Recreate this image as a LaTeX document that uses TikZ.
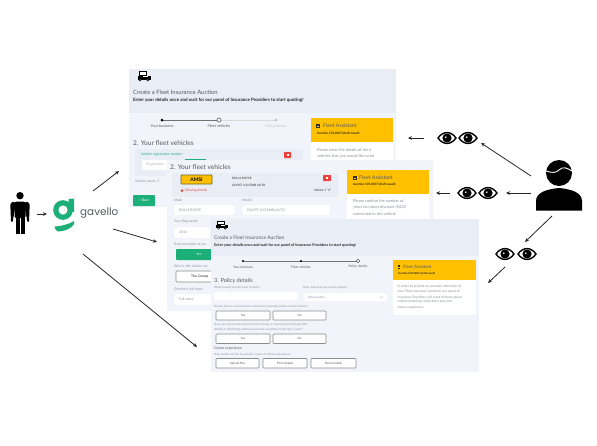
\documentclass[tikz,border=0pt]{standalone}
\usepackage{fontspec}
\setmainfont{Lato}
\newfontfamily\logofont{Poppins}
\usetikzlibrary{arrows.meta}
\definecolor{screenbg}{HTML}{F1F4FB}
\definecolor{headerbg}{HTML}{E9EDF5}
\definecolor{cardbg}{HTML}{E9EDF5}
\definecolor{fleetgreen}{HTML}{1CAF7A}
\definecolor{fleetyellow}{HTML}{FFC000}
\definecolor{fleetred}{HTML}{F0413C}
\definecolor{uigray}{HTML}{8A8F98}
\definecolor{uidark}{HTML}{55595F}
\tikzset{
  uitxt/.style={anchor=west, inner sep=0pt, text=uigray, font=\fontsize{3.4}{4}\selectfont},
  uiboldtxt/.style={anchor=west, inner sep=0pt, text=black!85, font=\fontsize{3.4}{4}\selectfont\bfseries},
  steptxt/.style={inner sep=0pt, text=uidark, font=\fontsize{3.8}{4}\selectfont},
  headtxt/.style={anchor=west, inner sep=0pt, text=uidark, font=\fontsize{6.6}{7}\selectfont},
  asttxt/.style={anchor=west, inner sep=0pt, text=uidark, font=\fontsize{5.2}{6}\selectfont},
  inputbox/.style={fill=white, draw=black!6, line width=0.3pt, rounded corners=0.8pt},
  optionbox/.style={fill=white, draw=black!45, line width=0.6pt, rounded corners=0.8pt},
  optiontxt/.style={inner sep=0pt, text=uidark, font=\fontsize{3.4}{4}\selectfont},
  flowarrow/.style={-{Stealth[length=4pt, width=3.6pt]}, line width=0.8pt, color=black!85},
  pics/eyeicon/.style={
    code={
      \draw[black, fill=white, line width=1.4pt] (-9,0) .. controls (-4,-7.2) and (4,-7.2) .. (9,0)
        .. controls (4,7.2) and (-4,7.2) .. (-9,0) -- cycle;
      \fill[black] (0,0) circle (4.6);
      \fill[white] (-1.2,-0.8) circle (0.9);
    }
  },
  pics/truckicon/.style={
    code={
      \fill[black] (-5.5,-5) rectangle (3,1);
      \fill[white] (-4.2,-3.8) rectangle (-1.5,-1.4);
      \fill[white] (-0.6,-3.8) rectangle (1.8,-1.4);
      \fill[black] (-6.5,0) rectangle (6.5,3.5);
      \fill[white] (-1,-0.4) rectangle (3.5,1.2);
      \fill[black] (-4,3.8) circle (1.6);
      \fill[black] (3.8,3.8) circle (1.6);
      \fill[white] (-4,3.8) circle (0.5);
      \fill[white] (3.8,3.8) circle (0.5);
    }
  },
  pics/asticon/.style={
    code={
      \fill[black!80] (-1.6,-2.2) rectangle (1.6,2.4);
      \fill[fleetyellow] (-0.7,-0.5) rectangle (0.7,0.9);
    }
  }
}

\begin{document}
\begin{tikzpicture}[x=1pt, y=-1pt, >=Stealth]
  \useasboundingbox (0,0) rectangle (597,445);

  % --- first screen, your business ---
  \fill[screenbg] (129,69) rectangle (396,207);
  \fill[headerbg] (129,69) rectangle (396,113);
  \pic at (144,76) {truckicon};
  \node[headtxt, font=\fontsize{5.9}{6}\selectfont] (onetitle) at (133,92) {Create a Fleet Insurance Auction};
  \node[uiboldtxt, font=\fontsize{4.5}{5}\selectfont\bfseries] (onesub) at (133,100)
    {Enter your details once and wait for our panel of Insurance Providers to start quoting!};
  % stepper
  \draw[black!15, line width=0.8pt] (219,120) -- (276,120);
  \draw[black!55, line width=0.8pt] (162,120) -- (219,120);
  \fill[black] (162,120) circle (1.5);
  \draw[black!65, fill=white, line width=0.6pt] (219,120) circle (2);
  \fill[black!25] (276,120) circle (1.3);
  \node[steptxt] (onestepa) at (162,126) {Your business};
  \node[steptxt] (onestepb) at (219,126) {Fleet vehicles};
  \node[steptxt, text=black!22] (onestepc) at (276,126) {Policy details};
  \node[headtxt] (onefleet) at (133,143) {2. Your fleet vehicles};
  \fill[cardbg, rounded corners=1pt] (135,149) rectangle (303,176);
  \node[uitxt, text=fleetgreen] (onereg) at (141,155) {Vehicle registration number};
  \fill[fleetgreen] (185,158.5) rectangle (206,159.5);
  \fill[inputbox] (142,160) rectangle (180,170);
  \node[uitxt, text=black!30] (oneregin) at (146,165) {Registration};
  \fill[fleetred, rounded corners=0.7pt] (284,152) rectangle (291,158);
  \fill[white] (286.5,154) rectangle (288.5,156);
  \node[uitxt] (onecount) at (135,181) {Vehicle count: 1};
  \fill[fleetgreen, rounded corners=0.8pt] (133,195) rectangle (155,206);
  \node[optiontxt, text=white] (oneback) at (144,200.5) {< Back};
  % assistant card
  \fill[white] (311,118) rectangle (393,170);
  \fill[fleetyellow] (311,118) rectangle (393,142);
  \pic at (318,126) {asticon};
  \node[asttxt] (oneast) at (323,126) {Fleet Assistant};
  \node[uiboldtxt, font=\fontsize{3.1}{4}\selectfont\bfseries] (oneauc) at (317,134) {Auction CVL1007 (draft saved)};
  \node[uitxt, font=\fontsize{3.9}{4}\selectfont] (onebodya) at (317,150) {Please enter the details of the 6};
  \node[uitxt, font=\fontsize{3.9}{4}\selectfont] (onebodyb) at (317,156) {vehicles that you would like to be};

  % --- second screen, fleet vehicles ---
  \fill[screenbg] (167,160) rectangle (405,311);
  \fill[screenbg] (167,160) rectangle (433,220);
  \node[headtxt] (twofleet) at (170,167) {2. Your fleet vehicles};
  \fill[cardbg, rounded corners=1pt] (172,173) rectangle (338,197);
  \fill[fleetyellow, draw=olive!70!black, line width=0.7pt, rounded corners=0.6pt] (181,175) rectangle (212,184);
  \node[inner sep=0pt, text=black, font=\fontsize{5}{6}\selectfont\bfseries] (twoplate) at (196.5,179.5) {AMSI};
  \node[uiboldtxt, font=\fontsize{3}{4}\selectfont] (twomake) at (232,178) {ROLLS ROYCE};
  \node[uiboldtxt, font=\fontsize{3}{4}\selectfont] (twomodel) at (232,185) {GHOST V12 EWB AUTO};
  \fill[fleetred, rounded corners=0.7pt] (323,175) rectangle (331,181);
  \fill[white] (326,177) rectangle (328,179);
  \fill[fleetred] (182,190.5) circle (1.5);
  \node[uitxt, text=fleetred] (twomiss) at (185,190.5) {Missing details};
  \node[uiboldtxt, font=\fontsize{3}{4}\selectfont] (twovehicle) at (314,190) {Vehicle 1 $\scriptscriptstyle\vee$};
  \node[uitxt] (twolabmake) at (174,200) {Make};
  \fill[inputbox] (174,205) rectangle (235,215);
  \node[uitxt] (twoinmake) at (179,210) {ROLLS ROYCE};
  \node[uitxt] (twolabmodel) at (242,200) {Model};
  \fill[inputbox] (242,205) rectangle (330,215);
  \node[uitxt] (twoinmodel) at (247,210) {GHOST V12 EWB AUTO};
  \node[uitxt] (twolabreg) at (174,222) {Your Registered};
  \fill[inputbox] (174,227) rectangle (210,238);
  \node[uitxt] (twoinreg) at (179,232.5) {2016};
  \node[uitxt] (twolabkept) at (174,245) {Kept overnight at you};
  \fill[fleetgreen, rounded corners=0.8pt] (176,249) rectangle (212,260);
  \node[optiontxt, text=white] (twoyes) at (199,254.5) {Yes};
  \node[uitxt] (twolabwho) at (174,266) {Who is this vehicle ow};
  \draw[optionbox] (176,271) rectangle (212,282);
  \node[uitxt, text=uidark, font=\fontsize{3.4}{4}\selectfont\bfseries] (twocomp) at (191,276.5) {The Compa};
  \node[uitxt] (twolabdir) at (174,289) {Director's full name};
  \fill[inputbox] (174,294) rectangle (212,305);
  \node[uitxt] (twoinfull) at (179,299.5) {Full name};
  % assistant card
  \fill[white] (347,170) rectangle (429,220);
  \fill[fleetyellow] (347,170) rectangle (429,194);
  \pic at (355,178) {asticon};
  \node[asttxt] (twoast) at (359,178) {Fleet Assistant};
  \node[uiboldtxt, font=\fontsize{3.1}{4}\selectfont\bfseries] (twoauc) at (353,185) {Auction CVL1007 (draft saved)};
  \node[uitxt, font=\fontsize{3.9}{4}\selectfont] (twobodya) at (353,201) {Please confirm the number of};
  \node[uitxt, font=\fontsize{3.9}{4}\selectfont] (twobodyb) at (353,207.5) {years no claims discount (NCD)};
  \node[uitxt, font=\fontsize{3.9}{4}\selectfont] (twobodyc) at (353,214) {connected to this vehicle};

  % --- third screen, policy details ---
  \fill[screenbg] (211,219) rectangle (479,372);
  \fill[headerbg] (211,219) rectangle (479,256);
  \pic[scale=0.85] at (222,225) {truckicon};
  \node[headtxt, font=\fontsize{4.9}{5}\selectfont] (thrtitle) at (214,238) {Create a Fleet Insurance Auction};
  \node[uiboldtxt, font=\fontsize{3.75}{4}\selectfont\bfseries] (thrsub) at (214,245)
    {Enter your details once and wait for our panel of Insurance Providers to start quoting!};
  % stepper
  \draw[black!55, line width=0.7pt] (243,261) -- (358,261);
  \fill[black] (243,261) circle (1.2);
  \fill[black] (301,261) circle (1.2);
  \draw[black!65, fill=white, line width=0.5pt] (358,261) circle (1.7);
  \node[steptxt, font=\fontsize{3.3}{4}\selectfont] (thrstepa) at (243,267) {Your business};
  \node[steptxt, font=\fontsize{3.3}{4}\selectfont] (thrstepb) at (301,267) {Fleet vehicles};
  \node[steptxt, font=\fontsize{3.3}{4}\selectfont] (thrstepc) at (358,267) {Policy details};
  \node[headtxt, font=\fontsize{5.6}{6}\selectfont] (thrhead) at (214,281) {3. Policy details};
  \node[uitxt, font=\fontsize{2.9}{3}\selectfont] (thrwhen) at (214,288) {When would you like cover to start?};
  \draw[inputbox] (214,292) rectangle (298,300.5);
  \node[uitxt, font=\fontsize{2.9}{3}\selectfont] (thrdays) at (303,288) {How many days to receive quotes?};
  \draw[inputbox] (304,293) rectangle (387,301.5);
  \node[uitxt, font=\fontsize{2.9}{3}\selectfont] (thrsel) at (308,297.2) {Please select...};
  \draw[black!40, line width=0.3pt] (380,296.5) -- (381.5,298) -- (383,296.5);
  \node[uitxt, font=\fontsize{2.9}{3}\selectfont] (thrpts) at (214,307)
    {Do any drivers currently have more than 6 penalty points on their licence?};
  \draw[optionbox] (216,311) rectangle (270,320);
  \node[optiontxt, font=\fontsize{3}{3}\selectfont] (thryesa) at (243,315.5) {Yes};
  \draw[optionbox] (273,311) rectangle (326,320);
  \node[optiontxt, font=\fontsize{3}{3}\selectfont] (thrnoa) at (299.5,315.5) {No};
  \node[uitxt, font=\fontsize{2.9}{3}\selectfont] (thrbana) at (214,325)
    {Have any drivers been banned from driving, or received a DG (Drugs), DR};
  \node[uitxt, font=\fontsize{2.9}{3}\selectfont] (thrbanb) at (214,330)
    {(Drink) or IN (driving without insurance) conviction in the last 5 years?};
  \draw[optionbox] (216,334) rectangle (270,343.5);
  \node[optiontxt, font=\fontsize{3}{3}\selectfont] (thryesb) at (243,338.7) {Yes};
  \draw[optionbox] (273,334) rectangle (326,343.5);
  \node[optiontxt, font=\fontsize{3}{3}\selectfont] (thrnob) at (299.5,338.7) {No};
  \node[uitxt, text=uidark, font=\fontsize{3.5}{4}\selectfont] (thrclaims) at (214,348.5) {Claims experience};
  \node[uitxt, font=\fontsize{2.9}{3}\selectfont] (thrhow) at (214,355)
    {How would you like to provide 5 years of claims experience?};
  \draw[optionbox] (216,358.5) rectangle (259,368);
  \node[optiontxt, font=\fontsize{3}{3}\selectfont] (thrupl) at (237.5,363.2) {Upload files};
  \draw[optionbox] (263,358.5) rectangle (307,368);
  \node[optiontxt, font=\fontsize{3}{3}\selectfont] (thrfill) at (285,363.2) {Fill in details};
  \draw[optionbox] (311,358.5) rectangle (356,368);
  \node[optiontxt, font=\fontsize{3}{3}\selectfont] (thrnot) at (333.5,363.2) {Not available};
  % assistant card
  \fill[white] (393,260) rectangle (476,315);
  \fill[fleetyellow] (393,260) rectangle (476,280);
  \pic[scale=0.8] at (399,267) {asticon};
  \node[asttxt, font=\fontsize{4.4}{5}\selectfont] (thrast) at (403,267) {Fleet Assistant};
  \node[uiboldtxt, font=\fontsize{2.7}{3}\selectfont\bfseries] (thrauc) at (398,273.5) {Auction CVL1007 (draft saved)};
  \node[uitxt, font=\fontsize{3.3}{4}\selectfont] (thrbodya) at (397.5,286.3) {In order to provide an accurate indication of};
  \node[uitxt, font=\fontsize{3.3}{4}\selectfont] (thrbodyb) at (397.5,291.7) {your Fleet Insurance premium, our panel of};
  \node[uitxt, font=\fontsize{3.3}{4}\selectfont] (thrbodyc) at (397.5,296.8) {Insurance Providers will want to know about};
  \node[uitxt, font=\fontsize{3.3}{4}\selectfont] (thrbodyd) at (397.5,302) {certain motoring convictions and your};
  \node[uitxt, font=\fontsize{3.3}{4}\selectfont] (thrbodye) at (397.5,307.3) {claims experience.};

  % --- customer and logo ---
  \fill[black] (20,195.7) circle (3.7);
  \fill[black, rounded corners=1.5pt] (14.5,201.5) rectangle (25.5,218);
  \fill[black, rounded corners=0.8pt] (10.3,204) -- (13,201.5) -- (16,203) -- (12.6,222) -- (11,222) -- cycle;
  \fill[black, rounded corners=0.8pt] (29.7,204) -- (27,201.5) -- (24,203) -- (27.4,222) -- (29,222) -- cycle;
  \fill[black] (15.5,215) rectangle (19.5,233.5);
  \fill[black] (20.5,215) rectangle (24.5,233.5);
  \draw[fleetgreen, line width=5.2pt] (63,210) circle (7.2);
  \fill[fleetgreen] (68.5,199) -- (74,198.5) -- (74,212) -- (69,212) -- cycle;
  \fill[fleetgreen] (54.5,226.5) .. controls (62,226) and (68,224.5) .. (74,221)
    -- (74,224) .. controls (72,228.5) and (64,231.5) .. (58,231.5)
    .. controls (56,231.5) and (55,229) .. (54.5,226.5) -- cycle;
  \node[inner sep=0pt, anchor=west, text=uidark, font=\logofont\fontsize{10.4}{12}\selectfont] (logotext) at (80,213.5) {gavello};

  % --- reader ---
  \fill[black] (559,173) circle (13);
  \draw[white, line width=0.9pt] (546,171) .. controls (552,173) and (556,173) .. (559,170)
    .. controls (563,166) and (567,168) .. (572,171);
  \fill[black] (536,210.5) -- (536,201) .. controls (536,192) and (548,189) .. (559,188)
    .. controls (570,189) and (582,192) .. (582,201) -- (582,210.5) -- cycle;

  % --- eyes ---
  \pic at (447,138) {eyeicon};
  \pic at (468,138) {eyeicon};
  \pic at (467,193) {eyeicon};
  \pic at (488,193) {eyeicon};
  \pic at (505,254) {eyeicon};
  \pic at (527,254) {eyeicon};

  % --- arrows ---
  \coordinate (custout) at (37,214);
  \coordinate (logoin) at (47,214);
  \coordinate (logoa) at (93,191);
  \coordinate (screena) at (119,171);
  \coordinate (logob) at (113,229);
  \coordinate (screenb) at (157,242);
  \coordinate (logoc) at (83,254);
  \coordinate (screenc) at (197,347);
  \coordinate (eyesaout) at (424,138);
  \coordinate (cardain) at (408,138);
  \coordinate (readera) at (531,176);
  \coordinate (eyesain) at (481,143);
  \coordinate (eyesbout) at (450,193);
  \coordinate (cardbin) at (436,193);
  \coordinate (readerb) at (531,193);
  \coordinate (eyesbin) at (506,193);
  \coordinate (readerc) at (552,216);
  \coordinate (eyescin) at (525,242);
  \coordinate (eyescout) at (505,267);
  \coordinate (cardcin) at (488,283);
  \foreach \from/\to in {custout/logoin, logoa/screena, logob/screenb, logoc/screenc,
      eyesaout/cardain, readera/eyesain, eyesbout/cardbin, readerb/eyesbin,
      readerc/eyescin, eyescout/cardcin}
    \draw[flowarrow] (\from) -- (\to);
\end{tikzpicture}
\end{document}
